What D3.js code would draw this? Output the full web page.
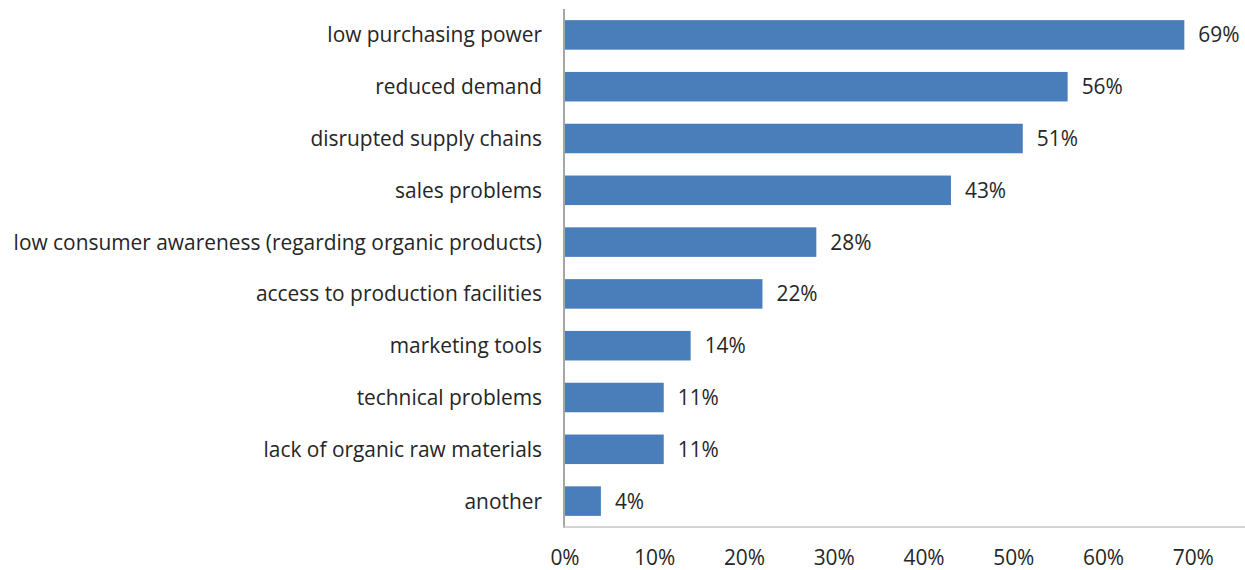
<!DOCTYPE html>
<html>
<head>
<meta charset="utf-8">
<script src="https://cdn.jsdelivr.net/npm/d3@7"></script>
<style>
  html, body { margin: 0; padding: 0; background: #fff; }
  svg { display: block; }
  text { font-family: "Open Sans", sans-serif; fill: #262626; }
</style>
</head>
<body>
<svg id="chart" width="1245" height="570"></svg>
<script>
// Reported barriers and their shares (%)
const categories = [
  "low purchasing power",
  "reduced demand",
  "disrupted supply chains",
  "sales problems",
  "low consumer awareness (regarding organic products)",
  "access to production facilities",
  "marketing tools",
  "technical problems",
  "lack of organic raw materials",
  "another"
];
const values = [69, 56, 51, 43, 28, 22, 14, 11, 11, 4];
const xTicks = [0, 10, 20, 30, 40, 50, 60, 70];

const svg = d3.select("#chart");
const W = 1245;
const plotLeft = 565, plotRight = 1193.3, plotTop = 9, plotBottom = 527;
const fontSize = 20.9;

const x = d3.scaleLinear().domain([0, 70]).range([plotLeft, plotRight]);
const y = d3.scaleBand().domain(categories).range([plotTop, plotBottom]).paddingInner(0.43).paddingOuter(0.215);

// bars
svg.append("g").selectAll("rect")
  .data(categories)
  .join("rect")
  .attr("x", x(0))
  .attr("y", d => y(d))
  .attr("width", (d, i) => x(values[i]) - x(0))
  .attr("height", y.bandwidth())
  .attr("fill", "#4a7ebb");

// value labels
svg.append("g").selectAll("text")
  .data(categories)
  .join("text")
  .attr("x", (d, i) => x(values[i]) + 14)
  .attr("y", d => y(d) + y.bandwidth() / 2)
  .attr("dy", "0.36em")
  .style("font-size", fontSize + "px")
  .text((d, i) => values[i] + "%");

// category labels
svg.append("g").selectAll("text")
  .data(categories)
  .join("text")
  .attr("x", plotLeft - 23)
  .attr("y", d => y(d) + y.bandwidth() / 2)
  .attr("dy", "0.36em")
  .attr("text-anchor", "end")
  .style("font-size", fontSize + "px")
  .text(d => d);

// axis lines
svg.append("line")
  .attr("x1", plotLeft - 1).attr("x2", plotLeft - 1)
  .attr("y1", plotTop).attr("y2", plotBottom + 1)
  .attr("stroke", "#a6a6a6").attr("stroke-width", 2);
svg.append("line")
  .attr("x1", plotLeft - 2).attr("x2", W)
  .attr("y1", plotBottom).attr("y2", plotBottom)
  .attr("stroke", "#c4c4c4").attr("stroke-width", 1.5);

// x tick labels
svg.append("g").selectAll("text")
  .data(xTicks)
  .join("text")
  .attr("x", d => x(d))
  .attr("y", 557)
  .attr("dy", "0.36em")
  .attr("text-anchor", "middle")
  .style("font-size", fontSize + "px")
  .text(d => d + "%");
</script>
</body>
</html>
